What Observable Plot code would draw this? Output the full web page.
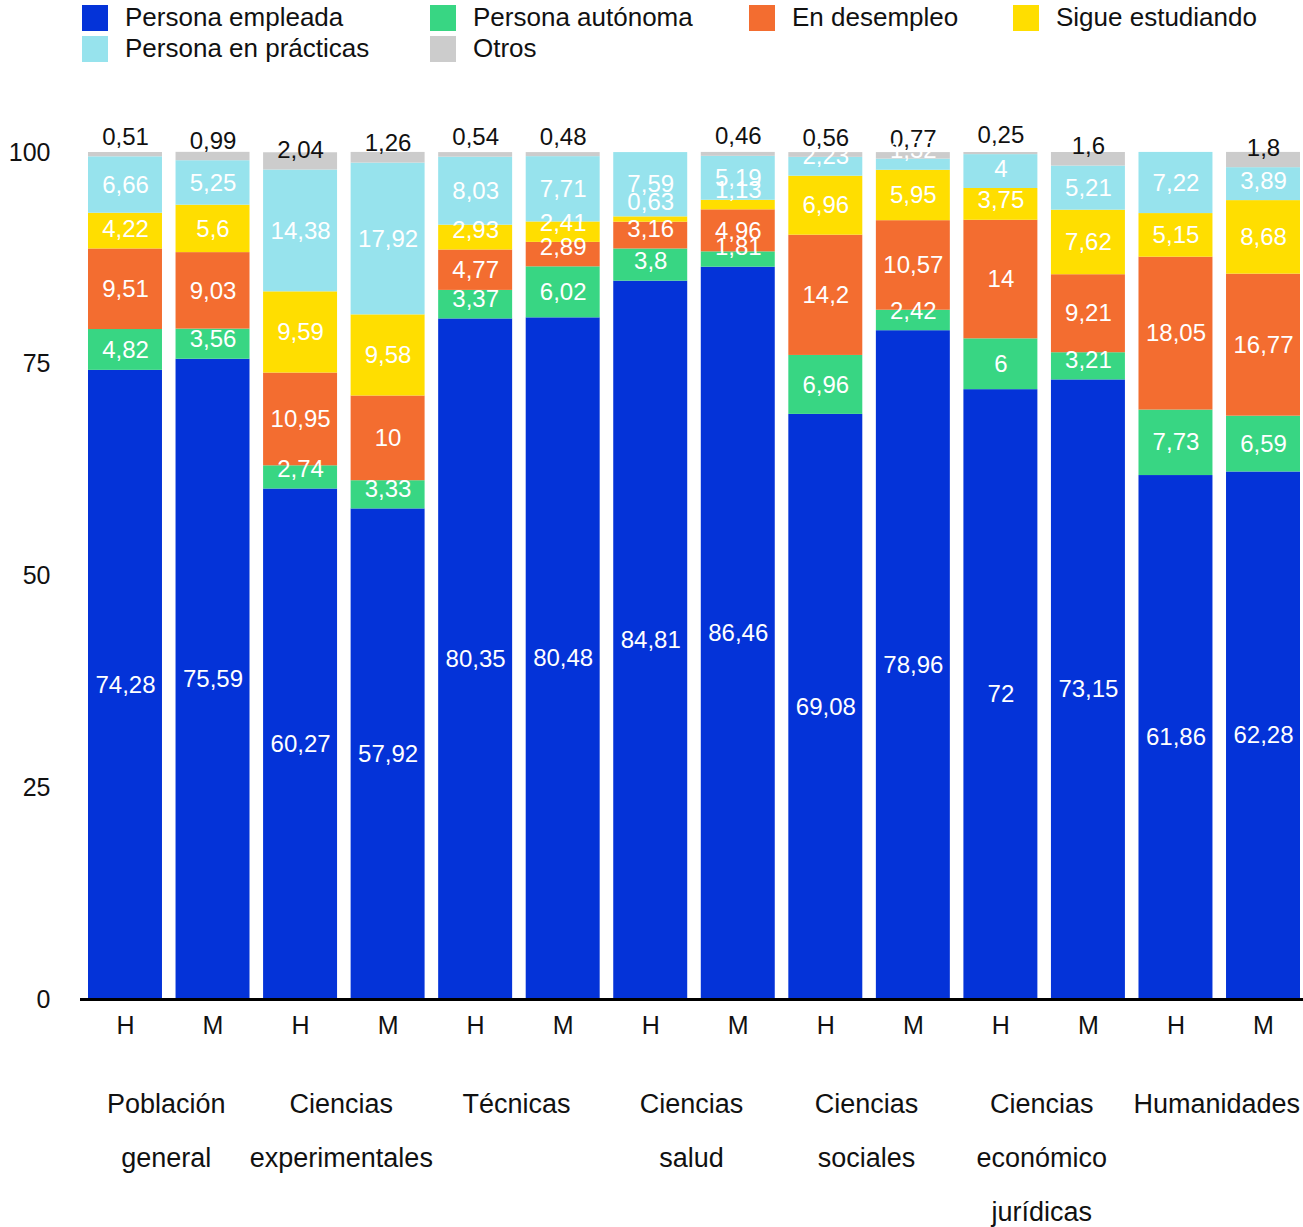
<!DOCTYPE html>
<html>
<head>
<meta charset="utf-8">
<script src="https://cdn.jsdelivr.net/npm/d3@7"></script>
<script src="https://cdn.jsdelivr.net/npm/@observablehq/plot@0.6"></script>
<style>
  body { margin: 0; background: #fff; font-family: "Liberation Sans", Arial, Helvetica, sans-serif; }
  #legend { height: 70px; box-sizing: border-box; padding-left: 82px; display: grid;
    grid-template-columns: 348px 319px 264px auto; grid-auto-rows: 31px; padding-top: 2px; }
  .item { display: flex; align-items: center; font-size: 26px; color: #111; white-space: nowrap; }
  .sw { width: 26px; height: 26px; margin-right: 17px; flex: none; }
</style>
</head>
<body>
<div id="legend"></div>
<div id="chart"></div>
<script>
const groups = ["Población general","Ciencias experimentales","Técnicas","Ciencias salud","Ciencias sociales","Ciencias económico jurídicas","Humanidades"];
const groupLabels = ["Población\ngeneral","Ciencias\nexperimentales","Técnicas","Ciencias\nsalud","Ciencias\nsociales","Ciencias\neconómico\njurídicas","Humanidades"];
const sexes = ["H","M"];
const seriesNames = ["Persona empleada","Persona autónoma","En desempleo","Sigue estudiando","Persona en prácticas","Otros"];
const seriesColors = ["#0433d8","#38d683","#f36d30","#ffde00","#97e3ed","#cccccc"];
const legendOrder = ["Persona empleada","Persona autónoma","En desempleo","Sigue estudiando","Persona en prácticas","Otros"];

// one value per bar: groups × (H, M)
const empleada   = [74.28,75.59,60.27,57.92,80.35,80.48,84.81,86.46,69.08,78.96,72,73.15,61.86,62.28];
const autonoma   = [4.82,3.56,2.74,3.33,3.37,6.02,3.8,1.81,6.96,2.42,6,3.21,7.73,6.59];
const desempleo  = [9.51,9.03,10.95,10,4.77,2.89,3.16,4.96,14.2,10.57,14,9.21,18.05,16.77];
const estudiando = [4.22,5.6,9.59,9.58,2.93,2.41,0.63,1.13,6.96,5.95,3.75,7.62,5.15,8.68];
const practicas  = [6.66,5.25,14.38,17.92,8.03,7.71,7.59,5.19,2.23,1.32,4,5.21,7.22,3.89];
const otros      = [0.51,0.99,2.04,1.26,0.54,0.48,0,0.46,0.56,0.77,0.25,1.6,0,1.8];
const yTicks = [0,25,50,75,100];

const seriesValues = [empleada, autonoma, desempleo, estudiando, practicas, otros];

// legend
const legend = document.getElementById("legend");
legendOrder.forEach(name => {
  const d = document.createElement("div");
  d.className = "item";
  d.innerHTML = `<span class="sw" style="background:${seriesColors[seriesNames.indexOf(name)]}"></span>${name}`;
  legend.appendChild(d);
});

const keys = [];
groups.forEach(g => sexes.forEach(s => keys.push(`${g}|${s}`)));

const width = 1303, height = 1157;
const marginLeft = 88, marginRight = 3, marginTop = 82, marginBottom = 228;
const paddingInner = 0.155;
const pxPerUnit = (height - marginTop - marginBottom) / 100;
const step = (width - marginLeft - marginRight) / (keys.length - paddingInner);
const labelLift = 19.5 / pxPerUnit;

const rows = [];
keys.forEach((k, i) => {
  let acc = 0;
  seriesNames.forEach((s, j) => {
    const v = seriesValues[j][i];
    rows.push({key: k, series: s, value: v, y1: acc, y2: acc + v});
    acc += v;
  });
});
rows.forEach(r => { r.ly = Math.max((r.y1 + r.y2) / 2, r.y1 + labelLift); });
const fmt = v => String(v).replace(".", ",");
const labelRows = rows.filter(r => r.value > 0);

const chart = Plot.plot({
  width, height, marginLeft, marginRight, marginTop, marginBottom,
  style: {fontFamily: '"Liberation Sans", Arial, Helvetica, sans-serif', background: "#fff"},
  x: {domain: keys, paddingInner, paddingOuter: 0, round: false, label: null},
  y: {domain: [0, 100], label: null},
  color: {domain: seriesNames, range: seriesColors},
  marks: [
    Plot.rectY(rows, {x: "key", y1: "y1", y2: "y2", fill: "series"}),
    Plot.ruleY([0], {stroke: "#000", strokeWidth: 3, insetLeft: -8, insetRight: -3}),
    Plot.axisY({ticks: yTicks, tickSize: 0, tickPadding: 38, fontSize: 25, fill: "#111", label: null}),
    Plot.axisX({tickSize: 0, tickPadding: 17, fontSize: 25, fill: "#111", label: null,
      tickFormat: d => d.split("|")[1]}),
    Plot.text(groups, {x: g => `${g}|H`, text: (g, i) => groupLabels[i], frameAnchor: "bottom",
      dx: step / 2 - 3, dy: 75, lineAnchor: "top", lineHeight: 2.0, fontSize: 27, fill: "#111"}),
    Plot.text(labelRows.filter(r => r.series === "Otros"), {x: "key", y: "ly", text: d => fmt(d.value),
      fill: "#111", fontSize: 24}),
    Plot.text(labelRows.filter(r => r.series !== "Otros"), {x: "key", y: "ly", text: d => fmt(d.value),
      fill: "#fff", fontSize: 24})
  ]
});
document.getElementById("chart").appendChild(chart);
</script>
</body>
</html>
